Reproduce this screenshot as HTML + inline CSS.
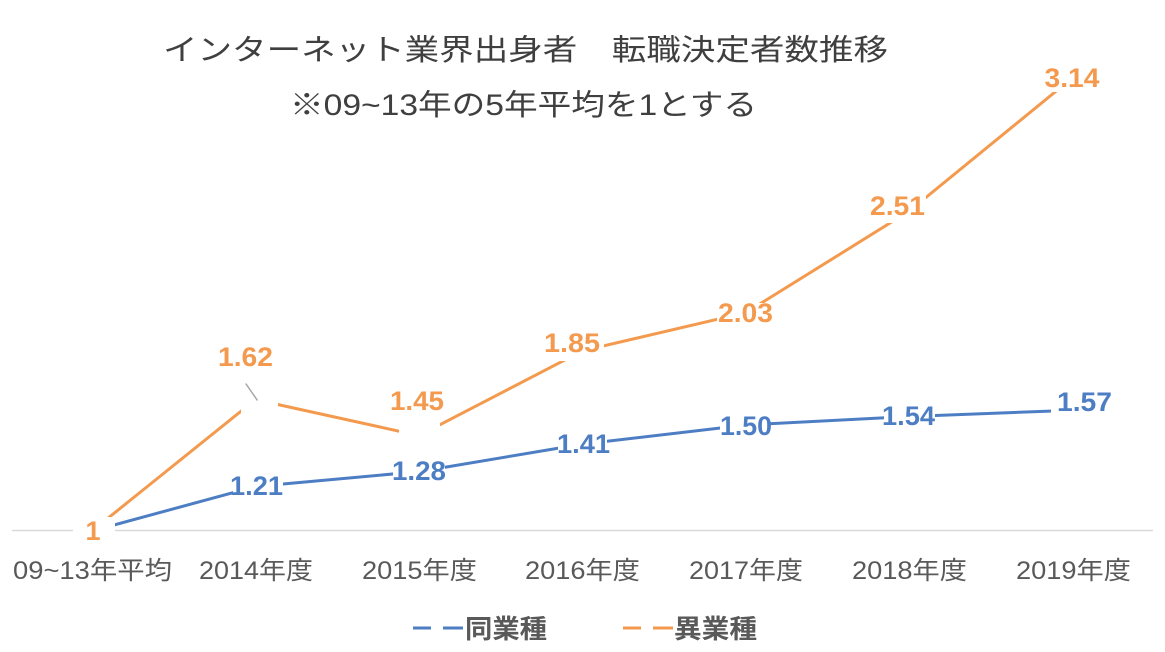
<!DOCTYPE html>
<html><head><meta charset="utf-8"><style>
html,body{margin:0;padding:0;background:#fff;}
svg{display:block;}
</style></head><body>
<svg width="1165" height="652" viewBox="0 0 1165 652" xmlns="http://www.w3.org/2000/svg">
<rect width="1165" height="652" fill="#fff"/>
<!-- Title -->
<g font-family="'Liberation Sans','Noto Sans CJK JP',sans-serif" font-size="29.5" fill="#3f3f3f">
<text x="163" y="60" textLength="725" lengthAdjust="spacingAndGlyphs">インターネット業界出身者　転職決定者数推移</text>
<text x="290" y="115" textLength="467" lengthAdjust="spacingAndGlyphs">※09~13年の5年平均を1とする</text>
</g>
<!-- axis -->
<line x1="12" y1="530.5" x2="1153" y2="530.5" stroke="#d9d9d9" stroke-width="1.5"/>
<!-- blue series -->
<polyline fill="none" stroke="#4D7EC4" stroke-width="3" stroke-linejoin="round"
 points="92,531 255.5,486.5 419,471.6 582.5,444.1 746,425 909.5,416.5 1073,410.2"/>
<!-- orange series -->
<polyline fill="none" stroke="#F39A4E" stroke-width="3" stroke-linejoin="round"
 points="92,531 255.5,399.6 419,435.6 582.5,350.8 746,312.6 909.5,210.9 1073,77.3"/>
<!-- label boxes (white) -->
<g fill="#fff">
<rect x="73" y="517" width="42" height="33"/>
<rect x="241" y="390" width="37" height="30"/>
<rect x="399" y="423" width="41" height="24"/>
<rect x="540" y="332" width="64" height="29"/>
<rect x="717" y="303" width="57" height="21"/>
<rect x="868" y="195" width="58" height="28"/>
<rect x="1043" y="63" width="60" height="29"/>
<rect x="233" y="475" width="50" height="22"/>
<rect x="393" y="461" width="52" height="21"/>
<rect x="558" y="432" width="49" height="23"/>
<rect x="720" y="414" width="50" height="23"/>
<rect x="884" y="405" width="51" height="23"/>
<rect x="1051" y="398" width="49" height="24"/>
</g>
<!-- leader line -->
<line x1="245.7" y1="383.5" x2="257.5" y2="400.5" stroke="#a6a6a6" stroke-width="1.5"/>
<!-- data labels orange -->
<g font-family="'Liberation Sans',sans-serif" font-weight="bold" font-size="27" fill="#F39A4E" text-anchor="middle">
<text x="93" y="540">1</text>
<text x="245.5" y="366" textLength="55" lengthAdjust="spacingAndGlyphs">1.62</text>
<text x="417" y="410" textLength="54" lengthAdjust="spacingAndGlyphs">1.45</text>
<text x="572" y="352" textLength="56" lengthAdjust="spacingAndGlyphs">1.85</text>
<text x="745.5" y="322" textLength="55" lengthAdjust="spacingAndGlyphs">2.03</text>
<text x="897.5" y="215" textLength="55" lengthAdjust="spacingAndGlyphs">2.51</text>
<text x="1072" y="87" textLength="55" lengthAdjust="spacingAndGlyphs">3.14</text>
</g>
<!-- data labels blue -->
<g font-family="'Liberation Sans',sans-serif" font-weight="bold" font-size="27" fill="#4D7EC4" text-anchor="middle">
<text x="256.5" y="495" textLength="53" lengthAdjust="spacingAndGlyphs">1.21</text>
<text x="419" y="480" textLength="54" lengthAdjust="spacingAndGlyphs">1.28</text>
<text x="583.5" y="453" textLength="53" lengthAdjust="spacingAndGlyphs">1.41</text>
<text x="746" y="435" textLength="52" lengthAdjust="spacingAndGlyphs">1.50</text>
<text x="908.5" y="425" textLength="53" lengthAdjust="spacingAndGlyphs">1.54</text>
<text x="1084.5" y="411" textLength="55" lengthAdjust="spacingAndGlyphs">1.57</text>
</g>
<!-- category labels -->
<g font-family="'Liberation Sans','Noto Sans CJK JP',sans-serif" font-size="25" fill="#595959">
<text x="13" y="579" textLength="159" lengthAdjust="spacingAndGlyphs">09~13年平均</text>
<text x="199" y="579" textLength="114" lengthAdjust="spacingAndGlyphs">2014年度</text>
<text x="362" y="579" textLength="115" lengthAdjust="spacingAndGlyphs">2015年度</text>
<text x="525" y="579" textLength="115" lengthAdjust="spacingAndGlyphs">2016年度</text>
<text x="689" y="579" textLength="114" lengthAdjust="spacingAndGlyphs">2017年度</text>
<text x="852" y="579" textLength="115" lengthAdjust="spacingAndGlyphs">2018年度</text>
<text x="1016" y="579" textLength="115" lengthAdjust="spacingAndGlyphs">2019年度</text>
</g>
<!-- legend -->
<g stroke-width="3">
<line x1="413" y1="628" x2="431" y2="628" stroke="#4D7EC4"/>
<line x1="443" y1="628" x2="463" y2="628" stroke="#4D7EC4"/>
<line x1="623" y1="628" x2="641" y2="628" stroke="#F39A4E"/>
<line x1="653" y1="628" x2="673" y2="628" stroke="#F39A4E"/>
</g>
<g font-family="'Liberation Sans','Noto Sans CJK JP',sans-serif" font-weight="bold" font-size="26" fill="#595959">
<text x="465" y="638" textLength="82" lengthAdjust="spacingAndGlyphs">同業種</text>
<text x="674" y="638" textLength="83" lengthAdjust="spacingAndGlyphs">異業種</text>
</g>
</svg>
</body></html>
